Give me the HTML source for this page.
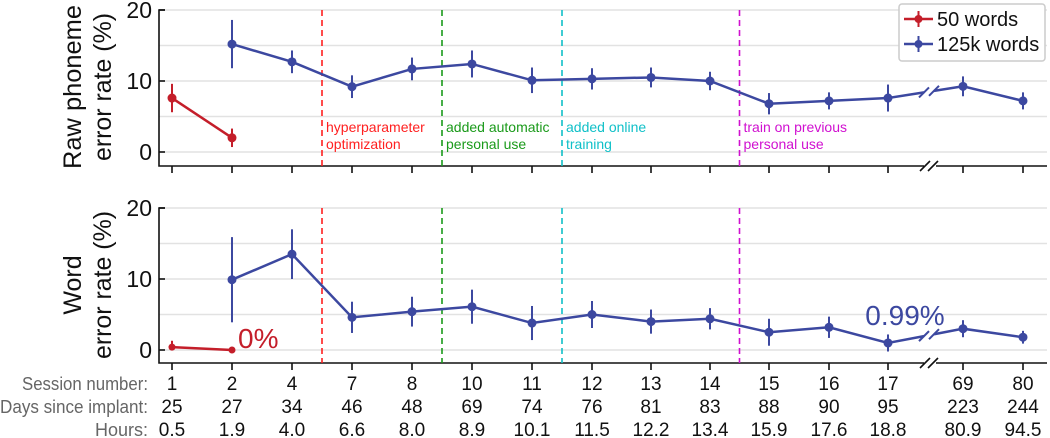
<!DOCTYPE html>
<html><head><meta charset="utf-8">
<style>
html,body{margin:0;padding:0;background:#fff;}
svg{display:block;font-family:"Liberation Sans",sans-serif;}
</style></head>
<body>
<svg id="chart" width="1050" height="438" viewBox="0 0 1050 438"></svg>
<script>
const sessions=["1","2","4","7","8","10","11","12","13","14","15","16","17","69","80"];
const days=["25","27","34","46","48","69","74","76","81","83","88","90","95","223","244"];
const hours=["0.5","1.9","4.0","6.6","8.0","8.9","10.1","11.5","12.2","13.4","15.9","17.6","18.8","80.9","94.5"];
const xPx=[172,232,292,352,412,472,532,592,651,710,769,829,888,963,1023];
const phon50=[7.6,2.0];
const phon50Err=[2.0,1.3];
const phonBig=[15.2,12.7,9.2,11.7,12.4,10.1,10.3,10.5,10.0,6.8,7.2,7.6,9.25,7.2];
const phonBigErr=[3.4,1.6,1.6,1.6,1.9,1.8,1.5,1.4,1.3,1.5,1.2,1.9,1.4,1.2];
const word50=[0.4,0.0];
const word50Err=[0.9,0.0];
const wordBig=[9.9,13.5,4.6,5.4,6.1,3.8,5.0,4.0,4.4,2.5,3.2,0.99,3.0,1.8];
const wordBigErr=[6.0,3.5,2.2,2.1,2.4,2.4,1.9,1.7,1.5,1.9,1.5,1.2,1.2,0.9];
const yTicks=[0,10,20];
const events=[{i:2.5,c:"#ff2020",t:["hyperparameter","optimization"]},{i:4.5,c:"#1a9a1a",t:["added automatic","personal use"]},{i:6.5,c:"#10c0c8",t:["added online","training"]},{i:9.5,c:"#d010d0",t:["train on previous","personal use"]}];
const RED="#c41e2a",BLUE="#3c48a0";
const svg=document.getElementById('chart');
const NS="http://www.w3.org/2000/svg";
function el(tag,attrs,parent){const e=document.createElementNS(NS,tag);for(const k in attrs)e.setAttribute(k,attrs[k]);(parent||svg).appendChild(e);return e;}
function xs(i){const f=Math.floor(i);if(f===i)return xPx[i];return xPx[f]+(xPx[f+1]-xPx[f])*(i-f);}
const panels=[{y0:152,axis:166,top:5,name:"phoneme",s50:phon50,e50:phon50Err,sb:phonBig,eb:phonBigErr,title:["Raw phoneme","error rate (%)"]},
{y0:350,axis:363,top:203,name:"word",s50:word50,e50:word50Err,sb:wordBig,eb:wordBigErr,title:["Word","error rate (%)"]}];
const K=7.1;
panels.forEach(p=>{
 const g=el('g',{});
 
 
 const ys=v=>p.y0-v*K;
 for(let v=0;v<=20;v+=5){const l=el('line',{x1:159,x2:1047,y1:ys(v),y2:ys(v),stroke:"#e2e2e2","stroke-width":1.5},g);
  }
 const ya=el('path',{d:`M165 ${ys(20)} H159 V${p.axis} H1047`,fill:"none",stroke:"#111","stroke-width":1.6},g);
 
 yTicks.forEach(v=>{el('line',{x1:159,x2:165,y1:ys(v),y2:ys(v),stroke:"#111","stroke-width":1.6},g);
  const t=el('text',{x:152,y:ys(v)+8,"text-anchor":"end","font-size":23,fill:"#111"},g);t.textContent=v;
  });
 xPx.forEach((x,i)=>{el('line',{x1:xs(i),x2:xs(i),y1:p.axis,y2:p.axis+7,stroke:"#111","stroke-width":1.6},g);});
 const bk=el('g',{},g);
 el('rect',{x:924,y:p.axis-2,width:12,height:4,fill:"#fff"},bk);
 el('line',{x1:920,y1:p.axis+5,x2:930,y2:p.axis-5,stroke:"#111","stroke-width":1.6},bk);
 el('line',{x1:928,y1:p.axis+5,x2:938,y2:p.axis-5,stroke:"#111","stroke-width":1.6},bk);
 const cy=(p.y0+ys(20))/2+6;
 const tt=el('text',{transform:`translate(81,${cy}) rotate(-90)`,"text-anchor":"middle","font-size":25,fill:"#111"},g);tt.textContent=p.title[0];
 if(p.name==="phoneme"){tt.setAttribute('textLength',164);tt.setAttribute('lengthAdjust','spacingAndGlyphs');}
 
 const t2=el('text',{transform:`translate(111,${cy}) rotate(-90)`,"text-anchor":"middle","font-size":25,fill:"#111","textLength":148,"lengthAdjust":"spacingAndGlyphs"},g);t2.textContent=p.title[1];
 
 events.forEach(ev=>{const l=el('line',{x1:xs(ev.i),x2:xs(ev.i),y1:p.top+5,y2:p.axis,stroke:ev.c,"stroke-width":1.6,"stroke-dasharray":"6,4"},g);
  
  if(p.name==="phoneme"){ev.t.forEach((s,k)=>{const t=el('text',{x:xs(ev.i)+4,y:132+k*17,"font-size":14,fill:ev.c},g);t.textContent=s;
   });}
 });
 const r=el('g',{},g);
 el('polyline',{points:p.s50.map((v,i)=>xs(i)+","+ys(v)).join(" "),fill:"none",stroke:RED,"stroke-width":2.5},r);
 p.s50.forEach((v,i)=>{el('line',{x1:xs(i),x2:xs(i),y1:ys(Math.max(0,v-p.e50[i])),y2:ys(v+p.e50[i]),stroke:RED,"stroke-width":2},r);
  const c=el('circle',{cx:xs(i),cy:ys(v),r:p.name==="word"?3.5:4.5,fill:RED},r);});
 const b=el('g',{},g);
 const pts=p.sb.map((v,i)=>[xs(i+1),ys(v)]);
 let d="M"+pts[0].join(" ");
 for(let i=1;i<pts.length;i++){
  if(i===12){const a=pts[11],c=pts[12];const f=(x)=>a[1]+(c[1]-a[1])*(x-a[0])/(c[0]-a[0]);
   d+=` L924 ${f(924)} M934 ${f(934)} L${c[0]} ${c[1]}`;}
  else d+=" L"+pts[i].join(" ");}
 el('path',{d:d,fill:"none",stroke:BLUE,"stroke-width":2.5},b);
 {const a=pts[11],c=pts[12];const f=(x)=>a[1]+(c[1]-a[1])*(x-a[0])/(c[0]-a[0]);
  el('line',{x1:919,y1:f(924)+5,x2:929,y2:f(924)-5,stroke:BLUE,"stroke-width":2},b);
  el('line',{x1:929,y1:f(934)+5,x2:939,y2:f(934)-5,stroke:BLUE,"stroke-width":2},b);}
 p.sb.forEach((v,i)=>{el('line',{x1:xs(i+1),x2:xs(i+1),y1:ys(v-p.eb[i]),y2:ys(v+p.eb[i]),stroke:BLUE,"stroke-width":2},b);
  const c=el('circle',{cx:xs(i+1),cy:ys(v),r:4.5,fill:BLUE},b);});
 if(p.name==="word"){
  const a=el('text',{x:xs(1)+6,y:ys(0)-2,"font-size":28,fill:RED},g);a.textContent="0%";
  const a2=el('text',{x:905,y:325,"text-anchor":"middle","font-size":28,fill:BLUE},g);a2.textContent="0.99%";
 }
});
const lg=el('g',{});
el('rect',{x:899,y:4,width:146,height:57,rx:3,fill:"#fff",stroke:"#ccc","stroke-width":1.5},lg);
[[RED,"50 words",19],[BLUE,"125k words",44]].forEach(([c,t,y])=>{
 const e=el('g',{},lg);
 el('line',{x1:904,x2:933,y1:y,y2:y,stroke:c,"stroke-width":2.5},e);
 el('line',{x1:918.5,x2:918.5,y1:y-8,y2:y+8,stroke:c,"stroke-width":2},e);
 el('circle',{cx:918.5,cy:y,r:4,fill:c},e);
 const tx=el('text',{x:937,y:y+7,"font-size":20,fill:"#111"},e);tx.textContent=t;});
const rows=[["Session number:",sessions,390,148],["Days since implant:",days,413,148],["Hours:",hours,436,0]];
rows.forEach(([lab,arr,y,len])=>{
 const t=el('text',{x:148,y:y,"text-anchor":"end","font-size":18,fill:"#666"});t.textContent=lab;
 if(len)t.setAttribute('textLength',lab.startsWith("Session")?126:148),t.setAttribute('lengthAdjust','spacingAndGlyphs');
 
 arr.forEach((v,i)=>{const q=el('text',{x:xs(i),y:y,"text-anchor":"middle","font-size":19,fill:"#111"});q.textContent=v;
  });
});
</script>
</body></html>
